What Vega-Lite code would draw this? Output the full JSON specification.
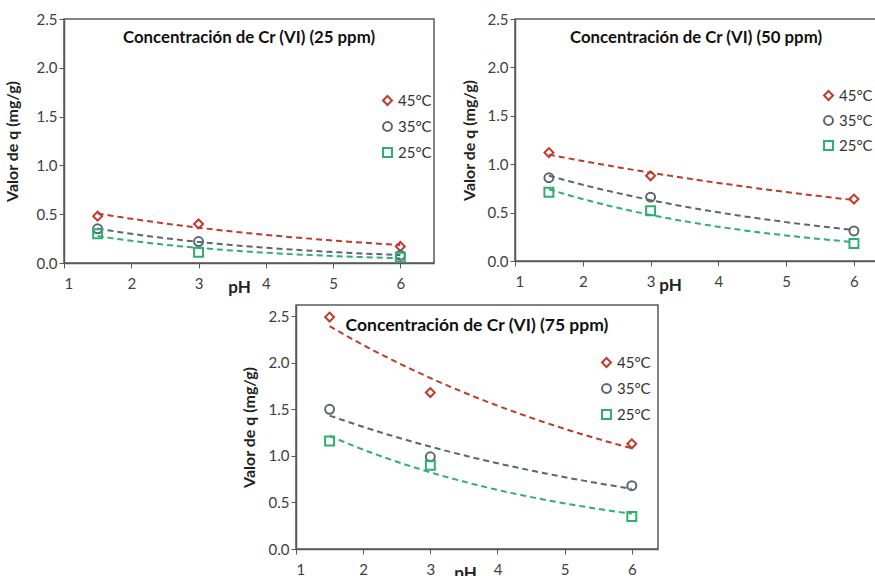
{
  "$schema": "https://vega.github.io/schema/vega-lite/v6.json",
  "padding": {"left": 3, "top": 11, "right": 0, "bottom": 0},
  "background": "white",
  "config": {
    "font": "Lato",
    "view": {"stroke": "#595959", "strokeWidth": 1.5},
    "axis": {"grid": false, "domainColor": "#595959", "domainWidth": 1.5, "tickColor": "#595959", "tickSize": 5, "tickWidth": 1, "labelFont": "Lato", "labelFontSize": 15, "labelColor": "#404040", "labelOverlap": false, "titleFont": "Lato", "titleFontWeight": "bold", "titleColor": "#222222", "titleFontSize": 16},
    "legend": {"labelFont": "Lato", "labelFontSize": 15, "labelColor": "#333333", "symbolStrokeWidth": 2, "symbolSize": 80, "rowPadding": 9, "labelOffset": 3},
    "title": {"font": "Lato", "fontWeight": "bold", "fontSize": 16.8, "color": "#111111", "frame": "group", "anchor": "middle"}
  },
  "datasets": {
    "d": [
      {"panel": 25, "temp": "45°C", "pH": 1.5, "q": 0.48},
      {"panel": 25, "temp": "45°C", "pH": 3, "q": 0.40},
      {"panel": 25, "temp": "45°C", "pH": 6, "q": 0.17},
      {"panel": 25, "temp": "35°C", "pH": 1.5, "q": 0.35},
      {"panel": 25, "temp": "35°C", "pH": 3, "q": 0.22},
      {"panel": 25, "temp": "35°C", "pH": 6, "q": 0.08},
      {"panel": 25, "temp": "25°C", "pH": 1.5, "q": 0.30},
      {"panel": 25, "temp": "25°C", "pH": 3, "q": 0.11},
      {"panel": 25, "temp": "25°C", "pH": 6, "q": 0.06},
      {"panel": 50, "temp": "45°C", "pH": 1.5, "q": 1.12},
      {"panel": 50, "temp": "45°C", "pH": 3, "q": 0.88},
      {"panel": 50, "temp": "45°C", "pH": 6, "q": 0.64},
      {"panel": 50, "temp": "35°C", "pH": 1.5, "q": 0.86},
      {"panel": 50, "temp": "35°C", "pH": 3, "q": 0.66},
      {"panel": 50, "temp": "35°C", "pH": 6, "q": 0.31},
      {"panel": 50, "temp": "25°C", "pH": 1.5, "q": 0.71},
      {"panel": 50, "temp": "25°C", "pH": 3, "q": 0.52},
      {"panel": 50, "temp": "25°C", "pH": 6, "q": 0.18},
      {"panel": 75, "temp": "45°C", "pH": 1.5, "q": 2.49},
      {"panel": 75, "temp": "45°C", "pH": 3, "q": 1.68},
      {"panel": 75, "temp": "45°C", "pH": 6, "q": 1.13},
      {"panel": 75, "temp": "35°C", "pH": 1.5, "q": 1.50},
      {"panel": 75, "temp": "35°C", "pH": 3, "q": 0.99},
      {"panel": 75, "temp": "35°C", "pH": 6, "q": 0.68},
      {"panel": 75, "temp": "25°C", "pH": 1.5, "q": 1.16},
      {"panel": 75, "temp": "25°C", "pH": 3, "q": 0.90},
      {"panel": 75, "temp": "25°C", "pH": 6, "q": 0.35}
    ]
  },
  "spacing": 8,
  "resolve": {"scale": {"x": "independent", "y": "independent", "color": "independent", "shape": "independent"}, "legend": {"color": "independent", "shape": "independent"}, "axis": {"x": "independent", "y": "independent"}},
  "vconcat": [
    {
      "spacing": 25,
      "resolve": {"scale": {"x": "independent", "y": "independent", "color": "independent", "shape": "independent"}, "legend": {"color": "independent", "shape": "independent"}, "axis": {"x": "independent", "y": "independent"}},
      "hconcat": [
        {
          "width": 370, "height": 244,
          "title": {"text": "Concentración de Cr (VI) (25 ppm)", "offset": -35},
          "data": {"name": "d"},
          "transform": [{"filter": "datum.panel === 25"}],
          "layer": [
            {
              "transform": [{"regression": "q", "on": "pH", "groupby": ["temp"], "method": "exp", "extent": [1.5, 6]}],
              "mark": {"type": "line", "strokeDash": [6, 4], "strokeWidth": 2},
              "encoding": {
                "x": {"field": "pH", "type": "quantitative", "scale": {"domain": [1, 6.5], "nice": false}, "axis": {"title": "pH", "values": [1, 1.5, 2, 2.5, 3, 3.5, 4, 4.5, 5, 5.5, 6], "labelExpr": "datum.value % 1 === 0 ? format(datum.value, 'd') : ''", "labelOverlap": false, "labelPadding": 8, "titleX": 175, "titleY": 16, "titleFontSize": 17}},
                "y": {"field": "q", "type": "quantitative", "scale": {"domain": [0, 2.5], "nice": false}, "axis": {"title": "Valor de q (mg/g)", "values": [0, 0.5, 1, 1.5, 2, 2.5], "format": ".1f", "labelOverlap": false, "titlePadding": 16}},
                "detail": {"field": "temp", "type": "nominal"},
                "stroke": {"condition": [{"test": "datum.temp === '45°C'", "value": "#C0392B"}, {"test": "datum.temp === '35°C'", "value": "#5D6472"}], "value": "#2FAE72"}
              }
            },
            {
              "mark": {"type": "point", "filled": false, "strokeWidth": 2, "size": 80, "opacity": 1},
              "encoding": {
                "x": {"field": "pH", "type": "quantitative"},
                "y": {"field": "q", "type": "quantitative"},
                "color": {"field": "temp", "type": "nominal", "scale": {"domain": ["45°C", "35°C", "25°C"], "range": ["#C0392B", "#5D6472", "#2FAE72"]}, "legend": {"orient": "none", "title": null, "legendX": 316, "legendY": 74}},
                "shape": {"field": "temp", "type": "nominal", "scale": {"domain": ["45°C", "35°C", "25°C"], "range": ["diamond", "circle", "square"]}, "legend": {"orient": "none", "title": null, "legendX": 316, "legendY": 74}}
              }
            }
          ]
        },
        {
          "width": 362, "height": 242,
          "title": {"text": "Concentración de Cr (VI) (50 ppm)", "offset": -35},
          "data": {"name": "d"},
          "transform": [{"filter": "datum.panel === 50"}],
          "layer": [
            {
              "transform": [{"regression": "q", "on": "pH", "groupby": ["temp"], "method": "exp", "extent": [1.5, 6]}],
              "mark": {"type": "line", "strokeDash": [6, 4], "strokeWidth": 2},
              "encoding": {
                "x": {"field": "pH", "type": "quantitative", "scale": {"domain": [1, 6.34], "nice": false}, "axis": {"title": "pH", "values": [1, 1.5, 2, 2.5, 3, 3.5, 4, 4.5, 5, 5.5, 6], "labelExpr": "datum.value % 1 === 0 ? format(datum.value, 'd') : ''", "labelOverlap": false, "labelPadding": 8, "titleX": 155, "titleY": 16, "titleFontSize": 17}},
                "y": {"field": "q", "type": "quantitative", "scale": {"domain": [0, 2.5], "nice": false}, "axis": {"title": "Valor de q (mg/g)", "values": [0, 0.5, 1, 1.5, 2, 2.5], "format": ".1f", "labelOverlap": false, "titlePadding": 10}},
                "detail": {"field": "temp", "type": "nominal"},
                "stroke": {"condition": [{"test": "datum.temp === '45°C'", "value": "#C0392B"}, {"test": "datum.temp === '35°C'", "value": "#5D6472"}], "value": "#2FAE72"}
              }
            },
            {
              "mark": {"type": "point", "filled": false, "strokeWidth": 2, "size": 80, "opacity": 1},
              "encoding": {
                "x": {"field": "pH", "type": "quantitative"},
                "y": {"field": "q", "type": "quantitative"},
                "color": {"field": "temp", "type": "nominal", "scale": {"domain": ["45°C", "35°C", "25°C"], "range": ["#C0392B", "#5D6472", "#2FAE72"]}, "legend": {"orient": "none", "title": null, "legendX": 306, "legendY": 69, "rowPadding": 8}},
                "shape": {"field": "temp", "type": "nominal", "scale": {"domain": ["45°C", "35°C", "25°C"], "range": ["diamond", "circle", "square"]}, "legend": {"orient": "none", "title": null, "legendX": 306, "legendY": 69, "rowPadding": 8}}
              }
            }
          ]
        }
      ]
    },
    {
      "spacing": 0,
      "resolve": {"scale": {"x": "independent", "y": "independent", "color": "independent", "shape": "independent"}, "legend": {"color": "independent", "shape": "independent"}, "axis": {"x": "independent", "y": "independent"}},
      "hconcat": [
        {
          "width": 176, "height": 10,
          "view": {"stroke": null},
          "data": {"values": []},
          "mark": {"type": "point"},
          "encoding": {}
        },
        {
          "width": 362, "height": 244,
          "title": {"text": "Concentración de Cr (VI) (75 ppm)", "offset": -29, "fontSize": 17.5},
          "data": {"name": "d"},
          "transform": [{"filter": "datum.panel === 75"}],
          "layer": [
            {
              "transform": [{"regression": "q", "on": "pH", "groupby": ["temp"], "method": "exp", "extent": [1.5, 6]}],
              "mark": {"type": "line", "strokeDash": [6, 4], "strokeWidth": 2},
              "encoding": {
                "x": {"field": "pH", "type": "quantitative", "scale": {"domain": [1, 6.39], "nice": false}, "axis": {"title": "pH", "values": [1, 1.5, 2, 2.5, 3, 3.5, 4, 4.5, 5, 5.5, 6], "labelExpr": "datum.value % 1 === 0 ? format(datum.value, 'd') : ''", "labelOverlap": false, "labelPadding": 8, "titleX": 169, "titleY": 16, "titleFontSize": 17}},
                "y": {"field": "q", "type": "quantitative", "scale": {"domain": [0, 2.62], "nice": false}, "axis": {"title": "Valor de q (mg/g)", "values": [0, 0.5, 1, 1.5, 2, 2.5], "format": ".1f", "labelOverlap": false, "titlePadding": 11}},
                "detail": {"field": "temp", "type": "nominal"},
                "stroke": {"condition": [{"test": "datum.temp === '45°C'", "value": "#C0392B"}, {"test": "datum.temp === '35°C'", "value": "#5D6472"}], "value": "#2FAE72"}
              }
            },
            {
              "mark": {"type": "point", "filled": false, "strokeWidth": 2, "size": 80, "opacity": 1},
              "encoding": {
                "x": {"field": "pH", "type": "quantitative"},
                "y": {"field": "q", "type": "quantitative"},
                "color": {"field": "temp", "type": "nominal", "scale": {"domain": ["45°C", "35°C", "25°C"], "range": ["#C0392B", "#5D6472", "#2FAE72"]}, "legend": {"orient": "none", "title": null, "legendX": 303, "legendY": 50}},
                "shape": {"field": "temp", "type": "nominal", "scale": {"domain": ["45°C", "35°C", "25°C"], "range": ["diamond", "circle", "square"]}, "legend": {"orient": "none", "title": null, "legendX": 303, "legendY": 50}}
              }
            }
          ]
        }
      ]
    }
  ]
}
